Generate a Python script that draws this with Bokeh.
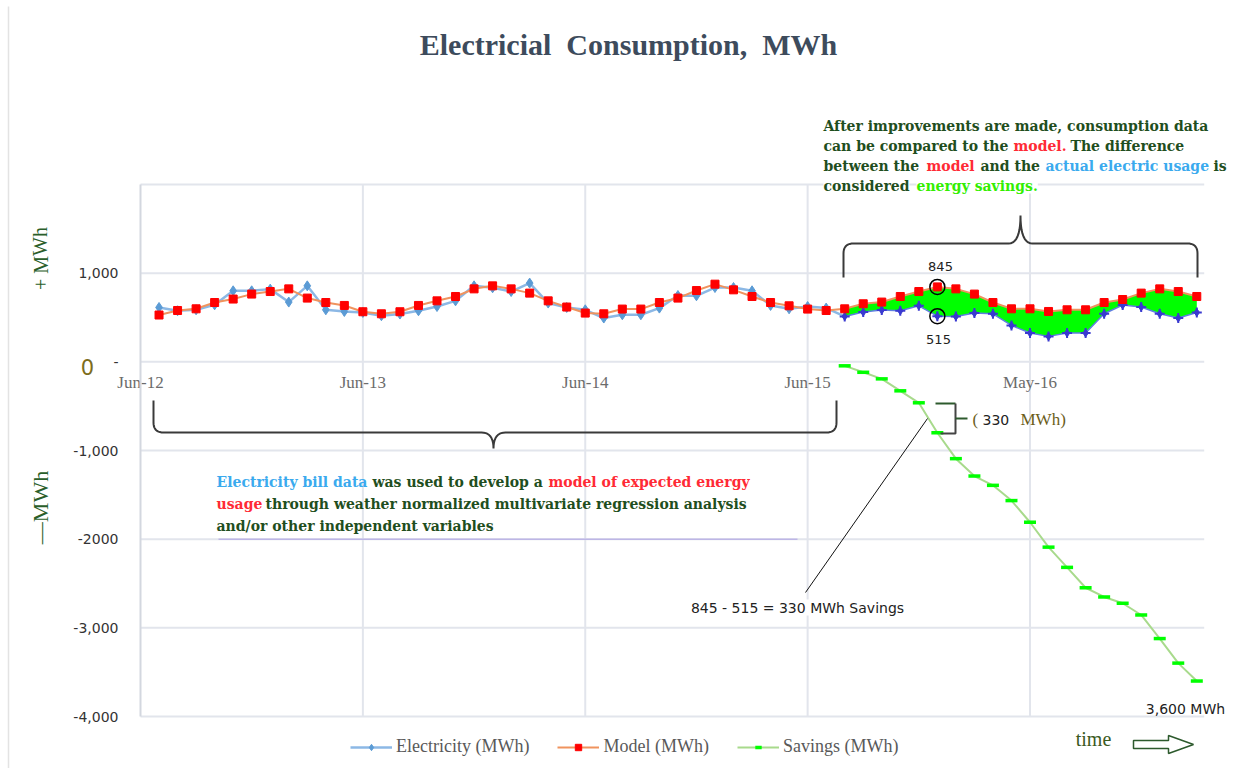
from bokeh.plotting import figure
from bokeh.models import Range1d, FixedTicker, Label, Legend, LegendItem, LinearAxis
from bokeh.embed import file_html
from bokeh.resources import INLINE

# ---------------- data ----------------
months = list(range(1, 58))  # month index, Jun-12 = 0
electricity = [613, 576, 587, 643, 801, 801, 820, 674, 857, 587,
               568, 557, 520, 539, 576, 624, 688, 857, 835, 793,
               888, 663, 613, 587, 494, 531, 531, 606, 748, 745,
               838, 838, 801, 636, 598, 624, 606, 512, 561, 584,
               576, 632, 515, 512, 550, 542, 411, 325, 287, 325,
               325, 542, 640, 618, 542, 494, 557]
model = [528, 579, 598, 669, 708, 764, 793, 823, 719, 669,
         636, 565, 542, 565, 636, 688, 737, 823, 857, 823,
         775, 688, 618, 550, 542, 595, 595, 669, 719, 804,
         876, 812, 737, 669, 632, 595, 579, 598, 655, 674,
         737, 793, 845, 823, 764, 669, 598, 598, 568, 587,
         587, 669, 703, 775, 823, 793, 737]
savings_months = list(range(38, 58))
savings = [-45, -118, -192, -327, -462, -800, -1092, -1288, -1393, -1565,
           -1809, -2090, -2318, -2548, -2652, -2723, -2855, -3121, -3398, -3600]
improve_month = 38
highlight_month = 43
x_ticks = [0, 12, 24, 36, 48]
x_tick_labels = ["Jun-12", "Jun-13", "Jun-14", "Jun-15", "May-16"]
y_ticks = [-4000, -3000, -2000, -1000, 0, 1000, 2000]
y_tick_labels = ["-4,000", "-3,000", "-2000", "-1,000", "-", "1,000", ""]
X_END = 57.2
Y_MIN, Y_MAX = -4000, 2000

# ---------------- geometry (canvas px <-> data) ----------------
W, H = 1236, 768
PX_L, PX_R, PX_T, PX_B = 140, 1200, 184, 716   # where x=0..X_END and y=2000..-4000 sit
SX = (PX_R - PX_L) / X_END
SY = (PX_B - PX_T) / float(Y_MAX - Y_MIN)


def dx(px):
    return (px - PX_L) / SX


def dy(py):
    return Y_MAX - (py - PX_T) / SY


p = figure(width=W, height=H, output_backend="svg", toolbar_location=None,
           x_range=Range1d(dx(0), dx(W)), y_range=Range1d(dy(H), dy(0)),
           x_axis_location=None, y_axis_location=None,
           min_border_left=0, min_border_right=0, min_border_top=0, min_border_bottom=0)
p.outline_line_color = None
p.background_fill_color = "white"
p.border_fill_color = "white"
p.xgrid.visible = False
p.ygrid.visible = False

# chart-area border (left edge)
p.line([dx(8), dx(8)], [dy(6), dy(H)], line_color="#e3e3e3", line_width=1.5)

# grid lines, limited to the plot area
GRID = "#e2e5ec"
p.segment(x0=[0] * len(y_ticks), x1=[X_END + 0.2] * len(y_ticks), y0=y_ticks, y1=y_ticks,
          line_color=GRID, line_width=2)
p.segment(x0=x_ticks[1:], x1=x_ticks[1:], y0=[Y_MIN] * (len(x_ticks) - 1), y1=[Y_MAX] * (len(x_ticks) - 1),
          line_color=GRID, line_width=2)

yaxis = LinearAxis(fixed_location=0, bounds=(Y_MIN, Y_MAX), ticker=FixedTicker(ticks=y_ticks),
                   major_label_overrides={t: l for t, l in zip(y_ticks, y_tick_labels)},
                   axis_line_color="#d3d7df", axis_line_width=2,
                   major_tick_line_color=None, minor_tick_line_color=None,
                   major_tick_out=0, major_tick_in=0,
                   major_label_standoff=22, major_label_text_font="DejaVu Sans",
                   major_label_text_font_size="14px", major_label_text_color="#333333")
p.add_layout(yaxis, "left")

xaxis = LinearAxis(fixed_location=0, ticker=FixedTicker(ticks=x_ticks),
                   major_label_overrides={t: l for t, l in zip(x_ticks, x_tick_labels)},
                   axis_line_color=None, major_tick_line_color=None, minor_tick_line_color=None,
                   major_tick_out=0, major_tick_in=0,
                   major_label_standoff=11, major_label_text_font="Liberation Serif",
                   major_label_text_font_size="17px", major_label_text_color="#6b6b6b")
p.add_layout(xaxis, "below")

# lavender stray line over -2000
p.line([dx(218), dx(797)], [-2000, -2000], line_color="#bdb6e6", line_width=1.5)

# ---------------- series ----------------
k = months.index(improve_month)
p.varea(x=months[k:], y1=electricity[k:], y2=model[k:], fill_color="#00ff00")

el_line = p.line(months[:k + 1], electricity[:k + 1], line_color="#7fb0e2", line_width=2.5, line_alpha=0.9)
el_mark = p.scatter(months[:k], electricity[:k], marker="diamond", size=10, fill_color="#5b9bd5", line_color="#5b9bd5")
p.line(months[k:], electricity[k:], line_color="#5f7fe0", line_width=1.5)
p.scatter(months[k:], electricity[k:], marker="diamond", size=8, fill_color="#3a3ad0", line_color="#3a3ad0")
p.scatter(months[k:], electricity[k:], marker="cross", size=10, line_color="#3a3ad0", line_width=2)

mo_line = p.line(months, model, line_color="#f0935e", line_width=2)
mo_mark = p.scatter(months, model, marker="square", size=8, fill_color="#ff0000", line_color="#ff0000")

sv_line = p.line(savings_months, savings, line_color="#a8da8c", line_width=2)
sv_mark = p.scatter(savings_months, savings, marker="dash", size=12, line_color="#00ff00", line_width=3.5)

h = months.index(highlight_month)
p.scatter([highlight_month, highlight_month], [model[h], electricity[h]], marker="circle", size=15,
          fill_alpha=0, line_color="black", line_width=1.5)

# ---------------- legend ----------------
legend = Legend(items=[LegendItem(label="Electricity (MWh)", renderers=[el_line, el_mark]),
                       LegendItem(label="Model (MWh)", renderers=[mo_line, mo_mark]),
                       LegendItem(label="Savings (MWh)", renderers=[sv_line, sv_mark])],
                orientation="horizontal", location=(350, 11),
                glyph_width=42, glyph_height=16, label_standoff=4, spacing=28,
                padding=0, margin=0, border_line_alpha=0, background_fill_alpha=0,
                label_text_font="Liberation Serif", label_text_font_size="18px",
                label_text_color="#595959")
p.add_layout(legend, "center")


# ---------------- annotations ----------------
def lab(px, py, text, color="#1f4e20", font="DejaVu Serif", size="14px", style="bold",
        align="left", angle=0, bg=None):
    l = Label(x=dx(px), y=dy(py), text=text, text_color=color, text_font=font,
              text_font_size=size, text_font_style=style, text_align=align,
              text_baseline="middle", angle=angle)
    if bg:
        l.background_fill_color = bg
    p.add_layout(l)


lab(628, 44, "Electricial\u00a0 Consumption,\u00a0 MWh", color="#3d4b5c", font="Liberation Serif",
    size="30px", align="center")
lab(40, 258, "+ MWh", color="#2a5e2a", font="Liberation Serif", size="20px", style="normal",
    align="center", angle=1.5708)
lab(40, 507, "\u2014MWh", color="#2a5e2a", font="Liberation Serif", size="22px", style="normal",
    align="center", angle=1.5708)
lab(87, 366, "0", color="#7d6d1c", font="DejaVu Sans", size="21px", style="normal", align="center")

G, R, B, LG = "#1f4e20", "#ff2a35", "#3aaaee", "#33ee00"
# top text box
for px, py, t, c in [(823, 125, "After improvements are made, consumption data", G),
                     (823, 145, "can be compared to the", G), (1013, 145, "model.", R),
                     (1070, 145, "The difference", G),
                     (823, 165, "between the", G), (926, 165, "model", R), (980, 165, "and the", G),
                     (1045, 165, "actual electric usage", B), (1213, 165, "is", G),
                     (823, 185, "considered", G), (916, 185, "energy savings.", LG)]:
    lab(px, py, t, color=c, bg="white")
# bottom text box
for px, py, t, c in [(216, 481, "Electricity bill data", B), (372, 481, "was used to develop a", G),
                     (548, 481, "model of expected energy", R),
                     (216, 503, "usage", R), (265, 503, "through weather normalized multivariate regression analysis", G),
                     (216, 525, "and/or other independent variables", G)]:
    lab(px, py, t, color=c)

lab(940, 266, "845", color="#222222", font="DejaVu Sans", size="13px", style="normal", align="center", bg="white")
lab(938, 339, "515", color="#222222", font="DejaVu Sans", size="13px", style="normal", align="center")
lab(972, 419, "(", color="#6b5d1a", font="Liberation Serif", size="17px", style="normal")
lab(982, 419, "330", color="#222222", font="DejaVu Sans", size="14px", style="normal")
lab(1020, 419, "MWh)", color="#6b5d1a", font="Liberation Serif", size="17px", style="normal")
lab(797, 607, "845 - 515 = 330 MWh Savings", color="#222222", font="DejaVu Sans", size="14px",
    style="normal", align="center", bg="white")
lab(1185, 708, "3,600 MWh", color="#222222", font="DejaVu Sans", size="14px", style="normal", align="center")
lab(1093, 738, "time", color="#3b5a1e", font="Liberation Serif", size="20px", style="normal", align="center")


def qbez(a, c, b, n=10):
    pts = []
    for i in range(n + 1):
        t = i / n
        pts.append(((1 - t) ** 2 * a[0] + 2 * (1 - t) * t * c[0] + t * t * b[0],
                    (1 - t) ** 2 * a[1] + 2 * (1 - t) * t * c[1] + t * t * b[1]))
    return pts


def path(pts, color="#3a3a3a", width=2):
    p.line([dx(q[0]) for q in pts], [dy(q[1]) for q in pts], line_color=color, line_width=width)


def brace(xl, xr, xm, y_end, y_bar, y_tip):
    s = 1 if y_end > y_bar else -1
    r = 10
    pts = [(xl, y_end), (xl, y_bar + s * r)]
    pts += qbez((xl, y_bar + s * r), (xl, y_bar), (xl + r, y_bar))
    pts += [(xm - 12, y_bar)]
    pts += qbez((xm - 12, y_bar), (xm, y_bar), (xm, y_tip))
    pts += qbez((xm, y_tip), (xm, y_bar), (xm + 12, y_bar))
    pts += [(xr - r, y_bar)]
    pts += qbez((xr - r, y_bar), (xr, y_bar), (xr, y_bar + s * r))
    pts += [(xr, y_end)]
    path(pts)


brace(843, 1197, 1020, 277, 243, 215)
brace(153, 836, 493, 400, 432, 448)

# 330 bracket
path([(935, 403), (955, 403)], color="#2d5a2d")
path([(955, 403), (955, 433), (940, 433)], color="#444444")
path([(955, 418), (967, 418)], color="#2d5a2d")
# connector
path([(927, 418), (805, 592)], color="#111111", width=1)

# time arrow (hollow)
arrow = [(1133, 740), (1168, 740), (1168, 735), (1193, 744), (1168, 753), (1168, 748), (1133, 748)]
p.patch([dx(q[0]) for q in arrow], [dy(q[1]) for q in arrow], fill_color="white",
        line_color="#2d5a2d", line_width=1.5)

open("out.html", "w").write(file_html(p, INLINE))
